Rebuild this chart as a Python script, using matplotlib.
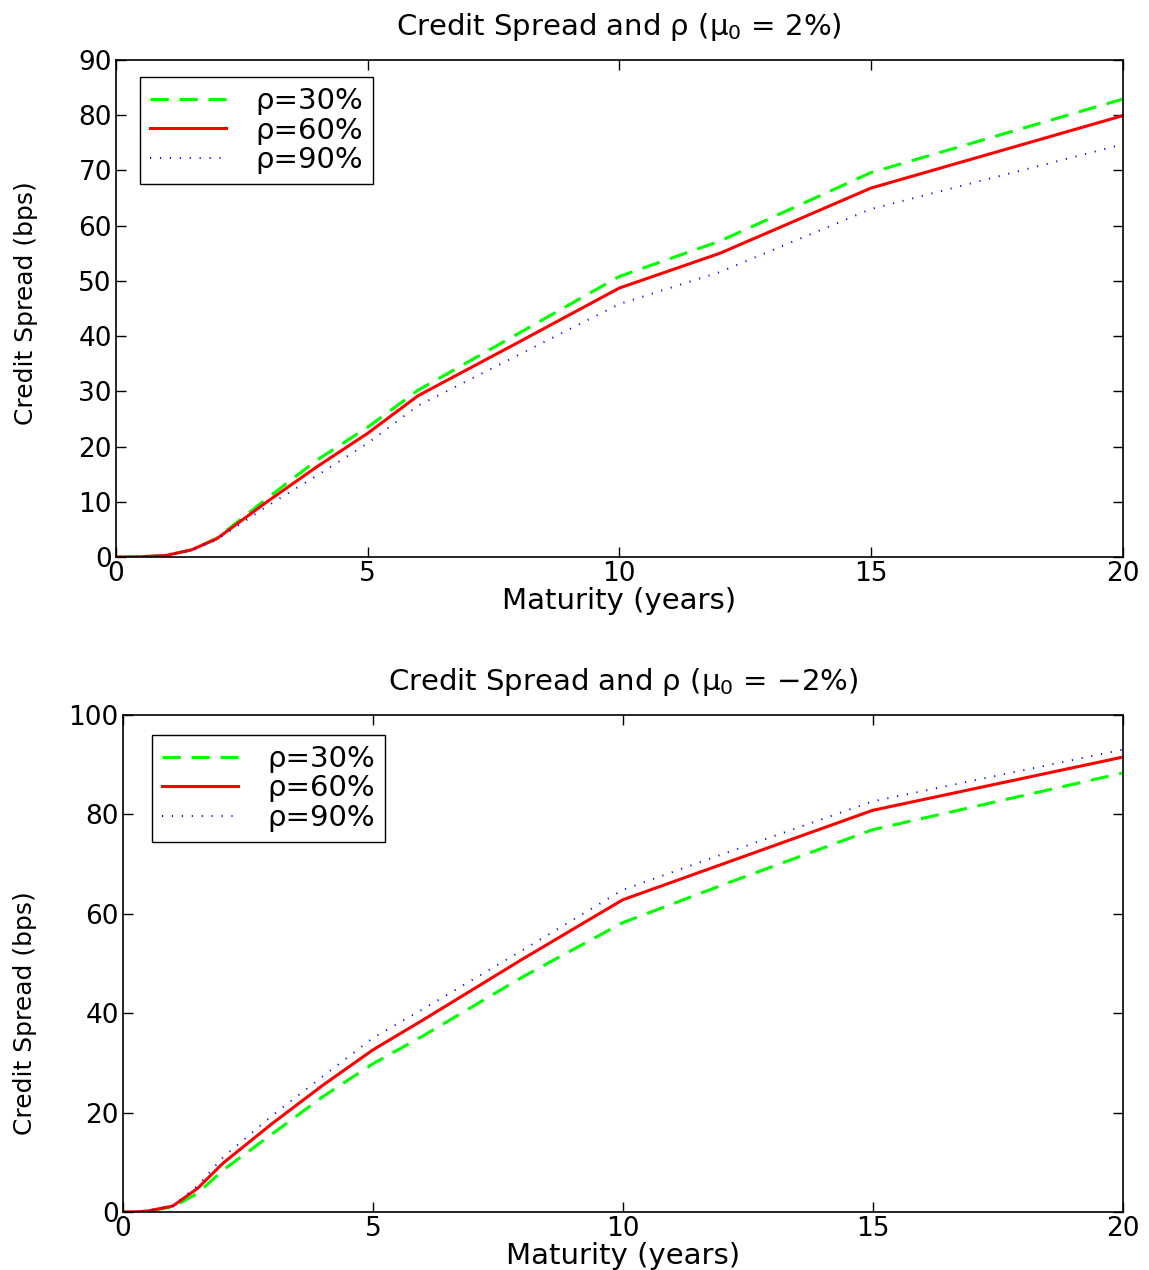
import numpy as np
import matplotlib
matplotlib.use("Agg")
import matplotlib.pyplot as plt

plt.rcParams['font.family'] = ['DejaVu Sans']
plt.rcParams['mathtext.default'] = 'regular'

maturity = [0, 0.25, 0.5, 1, 1.5, 2, 3, 4, 5, 6, 8, 10, 12, 15, 20]

# mu0 = 2%
top_rho30 = [0, 0.0, 0.05, 0.3, 1.3, 3.4, 10.6, 17.6, 23.5, 30.2, 40.5, 50.8, 57.2, 69.6, 82.9]
top_rho60 = [0, 0.0, 0.05, 0.3, 1.3, 3.3, 10.0, 16.4, 22.4, 29.2, 38.9, 48.7, 55.0, 66.8, 79.9]
top_rho90 = [0, 0.0, 0.05, 0.3, 1.2, 3.1, 9.2, 14.8, 20.6, 27.4, 36.6, 45.8, 51.6, 63.0, 74.7]

# mu0 = -2%
bot_rho30 = [0, 0.0, 0.2, 1.0, 3.8, 8.4, 15.8, 23.2, 29.8, 35.4, 47.3, 58.2, 65.8, 76.9, 88.3]
bot_rho60 = [0, 0.0, 0.2, 1.2, 4.8, 9.8, 17.9, 25.5, 32.6, 38.6, 50.9, 62.8, 70.0, 80.8, 91.5]
bot_rho90 = [0, 0.0, 0.2, 1.3, 5.3, 11.0, 19.5, 27.3, 35.0, 40.8, 52.7, 64.8, 72.0, 82.6, 93.0]

labels = ['ρ=30%', 'ρ=60%', 'ρ=90%']

fig = plt.figure(figsize=(11.49, 12.70), dpi=100)
ax1 = fig.add_axes([0.101, 0.5614, 0.876, 0.3914])
ax2 = fig.add_axes([0.107, 0.0457, 0.870, 0.3914])

tick_fs = 19
title_fs = 21


def draw(ax, s30, s60, s90, title, ymax, ystep, leg_anchor, ylab_pos):
	ax.plot(maturity, s30, color=(0, 1, 0), linestyle=(0, (6, 3.5)), linewidth=2.2, label=labels[0])
	ax.plot(maturity, s60, color=(1, 0, 0), linestyle='-', linewidth=2.2, label=labels[1])
	ax.plot(maturity, s90, color=(0, 0, 1), linestyle=(0, (0.6, 4.5)), linewidth=1.4, label=labels[2])
	ax.set_xlim(0, 20)
	ax.set_ylim(0, ymax)
	ax.set_xticks([0, 5, 10, 15, 20])
	ax.set_yticks(np.arange(0, ymax + 1, ystep))
	ax.tick_params(direction='in', length=7, width=1.0, top=True, right=True,
		labelsize=tick_fs, pad=3)
	for sp in ax.spines.values():
		sp.set_linewidth(1.2)
	ax.set_title(title, fontsize=title_fs, pad=18)
	ax.set_xlabel('Maturity (years)', fontsize=title_fs, labelpad=0)
	ax.set_ylabel('Credit Spread (bps)', fontsize=18)
	ax.yaxis.set_label_coords(*ylab_pos)
	leg = ax.legend(loc='upper left', bbox_to_anchor=leg_anchor, borderaxespad=0,
		fontsize=21, fancybox=False, framealpha=1, edgecolor='black',
		handlelength=2.6, labelspacing=0.05, handletextpad=1.0, borderpad=0.35)
	leg.get_frame().set_linewidth(1.0)


draw(ax1, top_rho30, top_rho60, top_rho90, r'Credit Spread and ρ ($\mu_0$ = 2%)', 90, 10,
	(0.024, 0.966), (-0.078, 0.51))
draw(ax2, bot_rho30, bot_rho60, bot_rho90, r'Credit Spread and ρ ($\mu_0$ = −2%)', 100, 20,
	(0.029, 0.96), (-0.086, 0.40))

fig.savefig('out.png', dpi=100)
